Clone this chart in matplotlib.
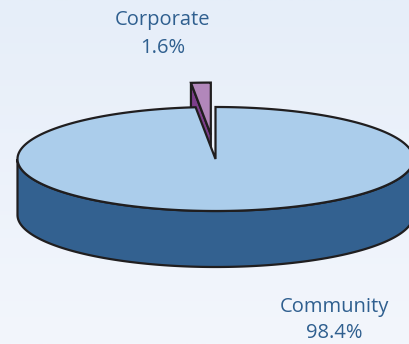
import numpy as np
import matplotlib.pyplot as plt
from matplotlib.patches import Polygon
from matplotlib.colors import LinearSegmentedColormap

# Share of spending by area
labels = ['Community', 'Corporate']
values = [98.4, 1.6]
pct_text = ['98.4%', '1.6%']

top_cols = ['#abcdeb', '#b287bb']
side_cols = ['#336190', '#7d3f8c']
text_col = '#2f5f8f'
edge_col = '#201e1f'

# ellipse geometry (pixels, y down)
cx, cy = 215.5, 159.0
a, b = 198.0, 52.0
depth = 56.0
explode = 0.47

W, H = 409, 344
fig = plt.figure(figsize=(W / 100, H / 100), dpi=100)
ax = fig.add_axes([0, 0, 1, 1])
ax.set_xlim(0, W)
ax.set_ylim(H, 0)
ax.axis('off')

# background fade
grad = np.linspace(0, 1, 256).reshape(-1, 1)
cmap = LinearSegmentedColormap.from_list('bg', ['#e6eef9', '#f3f6fc'])
ax.imshow(grad, extent=[0, W, H, 0], cmap=cmap, aspect='auto', zorder=0)


def rim(th, ox=0.0, oy=0.0, dz=0.0):
    t = np.radians(th)
    return np.column_stack([cx + ox + a * np.cos(t), cy - oy - b * np.sin(t) + dz])


# slice angles, counter-clockwise from 12 o'clock for the small slice
total = sum(values)
corp_span = 360 * values[1] / total
c0, c1 = 90.0, 90.0 + corp_span  # corporate
m0, m1 = c1, 450.0                # community

lw = 1.6

# community side wall (front half)
th = np.linspace(180, 360, 200)
side = np.vstack([rim(th), rim(th[::-1], dz=depth)])
ax.add_patch(Polygon(side, closed=True, fc=side_cols[0], ec=edge_col, lw=lw, zorder=2))

# corporate slice, pulled out from the centre
mid = np.radians((c0 + c1) / 2)
ox = explode * a * np.cos(mid)
oy = explode * b * np.sin(mid)
apex = np.array([cx + ox, cy - oy])
edge_pt = rim([c1], ox, oy)[0]
cut = np.array([apex, edge_pt, edge_pt + [0, depth], apex + [0, depth]])
ax.add_patch(Polygon(cut, closed=True, fc=side_cols[1], ec=edge_col, lw=lw, zorder=3))
th = np.linspace(c0, c1, 20)
wedge = np.vstack([apex, rim(th, ox, oy)])
ax.add_patch(Polygon(wedge, closed=True, fc=top_cols[1], ec=edge_col, lw=lw, zorder=4))

# community top face
th = np.linspace(m0, m1, 400)
top = np.vstack([[cx, cy], rim(th)])
ax.add_patch(Polygon(top, closed=True, fc=top_cols[0], ec=edge_col, lw=lw,
                     joinstyle='miter', zorder=5))

# labels
font = dict(family='Open Sans', fontsize=14.5, color=text_col, ha='center', va='center')
ax.text(163, 20, labels[1], **font)
ax.text(163, 48, pct_text[1], **font)
ax.text(334, 307, labels[0], **font)
ax.text(334, 333, pct_text[0], **font)

fig.savefig('out.png', dpi=100)
